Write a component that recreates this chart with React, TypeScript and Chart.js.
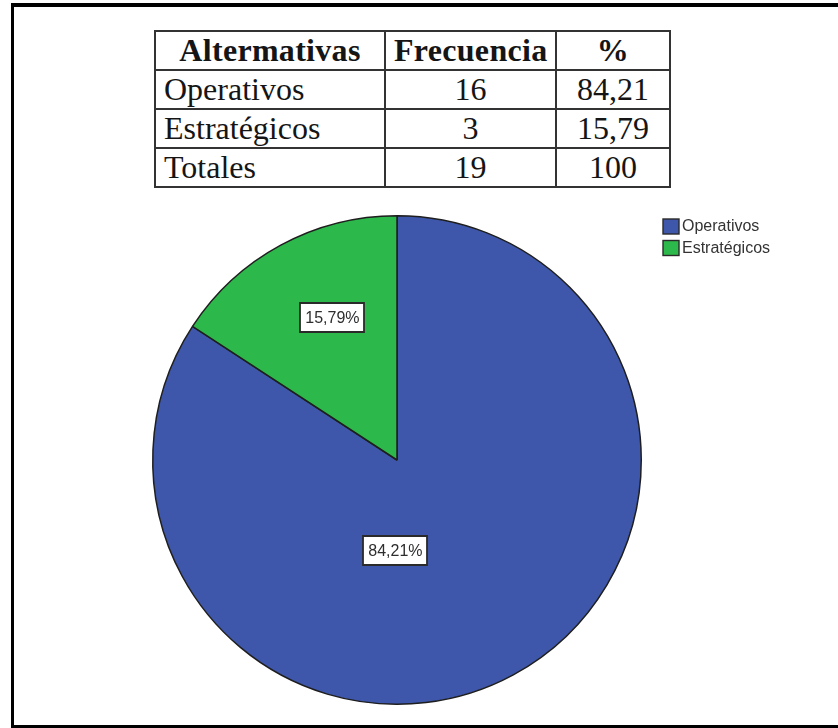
import React, { useEffect, useRef } from "react";
import { Chart, registerables } from "chart.js";

Chart.register(...registerables);

const tableHeaders = ["Altermativas", "Frecuencia", "%"];
const categories = ["Operativos", "Estratégicos"];
const frequencies = [16, 3];
const percents = [84.21, 15.79];
const totalLabel = "Totales";
const totalFrequency = 19;
const totalPercent = 100;

const colors = ["rgb(62,87,171)", "rgb(45,184,75)"];
const labelRadius = [0.37, 0.64];
const labelAngleShift = [29.4, 4];

const fmt = (v: number) =>
  Number.isInteger(v) ? String(v) : v.toFixed(2).replace(".", ",");

const sansFont = '"Liberation Sans", Arial, sans-serif';

const sliceLabelPlugin = {
  id: "sliceLabels",
  afterDatasetsDraw(chart: any) {
    const ctx = chart.ctx as CanvasRenderingContext2D;
    const meta = chart.getDatasetMeta(0);
    meta.data.forEach((arc: any, i: number) => {
      const { x, y, startAngle, endAngle, outerRadius } = arc.getProps(
        ["x", "y", "startAngle", "endAngle", "outerRadius"],
        true
      );
      const mid = (startAngle + endAngle) / 2 + (labelAngleShift[i] * Math.PI) / 180;
      const r = outerRadius * labelRadius[i];
      const cx = x + Math.cos(mid) * r;
      const cy = y + Math.sin(mid) * r;
      const text = fmt(percents[i]) + "%";
      ctx.save();
      ctx.font = "16px " + sansFont;
      const w = ctx.measureText(text).width + 10;
      const h = 29;
      ctx.fillStyle = "#ffffff";
      ctx.strokeStyle = "#2a2a2a";
      ctx.lineWidth = 1.8;
      ctx.beginPath();
      ctx.rect(Math.round(cx - w / 2), Math.round(cy - h / 2), Math.round(w), h);
      ctx.fill();
      ctx.stroke();
      ctx.fillStyle = "#2e2e2e";
      ctx.textAlign = "center";
      ctx.textBaseline = "middle";
      ctx.fillText(text, cx, cy + 1);
      ctx.restore();
    });
  },
  afterDraw(chart: any) {
    const ctx = chart.ctx as CanvasRenderingContext2D;
    const area = chart.chartArea;
    const lx = area.right + 21;
    const ly = area.top + 4;
    const labels: string[] = chart.data.labels;
    ctx.save();
    ctx.font = "16px " + sansFont;
    ctx.textBaseline = "middle";
    labels.forEach((lab, i) => {
      const by = ly + i * 21.5;
      ctx.fillStyle = colors[i];
      ctx.fillRect(lx, by, 16, 15);
      ctx.strokeStyle = "#2a2a2a";
      ctx.lineWidth = 1.4;
      ctx.strokeRect(lx, by, 16, 15);
      ctx.fillStyle = "#333333";
      ctx.fillText(lab, lx + 19, by + 8);
    });
    ctx.restore();
  },
};

const cellBase: React.CSSProperties = {
  border: "2px solid #333",
  padding: "0 8px",
  height: 37,
  lineHeight: "37px",
  whiteSpace: "nowrap",
  overflow: "hidden",
};

export default function App() {
  const canvasRef = useRef<HTMLCanvasElement | null>(null);

  useEffect(() => {
    if (!canvasRef.current) return;
    const chart = new Chart(canvasRef.current, {
      type: "pie",
      data: {
        labels: categories,
        datasets: [
          {
            data: percents,
            backgroundColor: colors,
            borderColor: "#1e1e1e",
            borderWidth: 1.5,
          },
        ],
      },
      options: {
        animation: false,
        responsive: false,
        maintainAspectRatio: false,
        layout: { padding: { left: 152, right: 196, top: 215, bottom: 23 } },
        plugins: {
          legend: { display: false },
          tooltip: { enabled: false },
        },
      },
      plugins: [sliceLabelPlugin],
    });
    return () => chart.destroy();
  }, []);

  const rows = [
    ...categories.map((c, i) => [c, String(frequencies[i]), fmt(percents[i])]),
    [totalLabel, String(totalFrequency), fmt(totalPercent)],
  ];

  return (
    <div
      style={{
        position: "absolute",
        left: 0,
        top: 0,
        width: 838,
        height: 728,
        overflow: "hidden",
        background: "#fff",
      }}
    >
      <canvas
        ref={canvasRef}
        width={838}
        height={728}
        style={{ position: "absolute", left: 0, top: 0, width: 838, height: 728 }}
      />
      <table
        style={{
          position: "absolute",
          left: 154,
          top: 30,
          width: 515,
          borderCollapse: "collapse",
          tableLayout: "fixed",
          fontFamily: '"Liberation Serif", "Times New Roman", serif',
          fontSize: 32,
          color: "#151515",
          background: "#fff",
        }}
      >
        <colgroup>
          <col style={{ width: 230 }} />
          <col style={{ width: 171 }} />
          <col style={{ width: 114 }} />
        </colgroup>
        <thead>
          <tr>
            {tableHeaders.map((h) => (
              <th
                key={h}
                style={{ ...cellBase, textAlign: "center", fontWeight: "bold", letterSpacing: 0.3 }}
              >
                {h}
              </th>
            ))}
          </tr>
        </thead>
        <tbody>
          {rows.map((r, ri) => (
            <tr key={ri}>
              {r.map((v, ci) => (
                <td
                  key={ci}
                  style={{ ...cellBase, textAlign: ci === 0 ? "left" : "center" }}
                >
                  {v}
                </td>
              ))}
            </tr>
          ))}
        </tbody>
      </table>
      <div
        style={{
          position: "absolute",
          left: 11,
          top: 3,
          width: 860,
          height: 725,
          boxSizing: "border-box",
          borderLeft: "3px solid #000",
          borderTop: "4px solid #000",
          borderBottom: "3px solid #000",
          pointerEvents: "none",
        }}
      />
    </div>
  );
}
